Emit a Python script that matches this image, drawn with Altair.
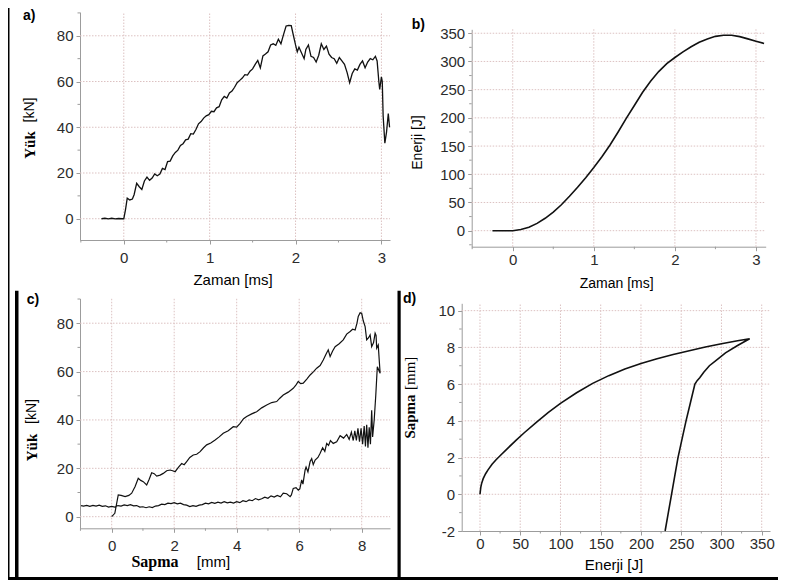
import altair as alt
import pandas as pd

W, H = 770, 572

# ---------------- data ----------------
# a) Load vs time
a_time = [-0.26, -0.22, -0.18, -0.14, -0.10, -0.06, -0.02, 0.0, 0.02, 0.04, 0.07, 0.10, 0.12, 0.15, 0.18,
          0.21, 0.24, 0.27, 0.30, 0.33, 0.36, 0.39, 0.42, 0.45, 0.48, 0.51, 0.54, 0.57, 0.60, 0.63,
          0.66, 0.69, 0.72, 0.75, 0.78, 0.81, 0.84, 0.87, 0.90, 0.93, 0.96, 0.99, 1.02, 1.05, 1.08,
          1.11, 1.14, 1.17, 1.20, 1.23, 1.26, 1.29, 1.32, 1.35, 1.38, 1.41, 1.44, 1.47, 1.50, 1.53,
          1.56, 1.59, 1.62, 1.65, 1.68, 1.71, 1.74, 1.77, 1.80, 1.83, 1.86, 1.89, 1.92, 1.95, 1.97,
          2.00, 2.02, 2.04, 2.07, 2.10, 2.12, 2.15, 2.18, 2.21, 2.24, 2.27, 2.30, 2.33, 2.36, 2.39,
          2.42, 2.45, 2.48, 2.51, 2.54, 2.57, 2.60, 2.63, 2.66, 2.69, 2.72, 2.75, 2.78, 2.81, 2.84,
          2.87, 2.90, 2.93, 2.95, 2.97, 2.98, 3.00, 3.01, 3.02, 3.04, 3.06, 3.08, 3.095]
a_load = [0, 0.2, -0.1, 0.2, -0.1, 0.1, 0, 0, 4, 9, 8.2, 8.6, 10.5, 15.5, 14,
          12.8, 16.5, 18.2, 16.8, 17.8, 19.6, 18.8, 19.5, 22, 21.5, 25, 25.2, 27.5, 29, 30,
          32, 32.8, 34.5, 34.8, 37.2, 37, 39, 41.5, 42.5, 44, 45, 45.5, 47, 46.8, 48.5,
          49, 52, 53.5, 52.8, 55, 55.8, 57.5, 59.5, 60.5, 61.5, 63, 62.8, 64.5, 65.5, 67.5,
          69.2, 66, 71.2, 72, 73, 76, 76.5, 75.8, 78.5, 76.5, 80.5, 84.3, 84.5, 84.4, 81,
          76, 73, 75, 72.5, 70, 74, 76, 71, 70.5, 68.5, 71.5, 76.5, 74, 75.5, 72,
          70.5, 70, 68, 70.5, 69, 67.5, 64, 59.5, 63.5, 65.5, 65, 67.5, 69, 66, 68.5,
          70, 69.5, 71, 69, 60, 56.5, 62, 60, 45, 33, 38, 46, 40]

# b) Energy vs time
b_time = [-0.25, 0, 0.1, 0.2, 0.3, 0.4, 0.5, 0.6, 0.7, 0.8, 0.9, 1.0, 1.1, 1.2, 1.3, 1.4, 1.5,
          1.6, 1.7, 1.8, 1.9, 2.0, 2.1, 2.2, 2.3, 2.4, 2.5, 2.6, 2.7, 2.8, 2.9, 3.0, 3.1]
b_energy = [0, 0, 2, 6, 13, 22, 33, 46, 61, 77, 94, 112, 131, 152, 175, 199, 222,
            245, 265, 282, 296, 307, 317, 326, 334, 340, 344.5, 346.5, 346.5, 344, 340, 336, 332]

# c) Load vs deflection: loading branch, then the return branch
c_up_defl = [0, 0.1, 0.21, 0.3, 0.43, 0.55, 0.64, 0.75, 0.85, 0.93, 1.01, 1.12, 1.2, 1.28, 1.36,
             1.44, 1.55, 1.65, 1.76, 1.87, 1.95, 2.03, 2.14, 2.24, 2.32, 2.4, 2.5, 2.61, 2.72, 2.83,
             2.94, 3.04, 3.17, 3.31, 3.44, 3.57, 3.73, 3.89, 4.0, 4.11, 4.22, 4.32, 4.48, 4.64, 4.8,
             4.96, 5.12, 5.28, 5.38, 5.49, 5.65, 5.81, 5.9, 5.97, 6.05, 6.13, 6.25, 6.35, 6.46, 6.56,
             6.67, 6.77, 6.85, 6.93, 6.99, 7.07, 7.15, 7.28, 7.41, 7.52, 7.63, 7.71, 7.79, 7.85, 7.89,
             7.95, 8.0, 8.05, 8.11, 8.16, 8.22, 8.27, 8.32, 8.38, 8.43, 8.46, 8.48, 8.53, 8.56, 8.59]
c_up_load = [0, 1.4, 9, 8.8, 8.3, 8.8, 9.7, 12.5, 15.9, 15, 14.5, 13.1, 15.5, 18.2, 17.8,
             16.8, 17.2, 17.9, 19, 19.3, 19, 18.6, 20.5, 22, 21.5, 22.8, 24.5, 25.5, 25.8, 26.9,
             28.5, 29.7, 30.5, 31.7, 33, 34.5, 35.5, 37.2, 37, 38.6, 40.5, 41.4, 42.5, 43.4, 45,
             46.2, 47.2, 47.6, 49, 50.3, 51.5, 53.1, 54.5, 55.9, 55, 55.2, 57, 58.6, 60, 61.4,
             62.5, 64.8, 67, 69, 66.2, 68.5, 70.3, 71.5, 73.1, 75.5, 76.6, 77.5, 77.2, 80, 82.8,
             84.3, 84.1, 81, 78.6, 73.1, 74, 75.2, 70.3, 72, 75.9, 75, 69.7, 71, 65, 59.3]
c_dn_defl = [8.5, 8.45, 8.4, 8.35, 8.32, 8.28, 8.24, 8.2, 8.16, 8.12, 8.08, 8.03, 7.98, 7.93, 7.88,
             7.83, 7.78, 7.73, 7.67, 7.6, 7.52, 7.42, 7.31, 7.2, 7.09, 7.0, 6.94, 6.88, 6.82, 6.75,
             6.67, 6.6, 6.51, 6.45, 6.4, 6.35, 6.28, 6.22, 6.19, 6.12, 6.08, 6.02, 5.97, 5.9, 5.81,
             5.75, 5.71, 5.6, 5.49, 5.4, 5.3, 5.2, 5.1, 5.0, 4.9, 4.8, 4.7, 4.6, 4.5,
             4.4, 4.3, 4.2, 4.1, 4.0, 3.9, 3.8, 3.7, 3.6, 3.5, 3.4, 3.3, 3.2, 3.1, 3.0,
             2.9, 2.8, 2.7, 2.6, 2.5, 2.4, 2.3, 2.2, 2.1, 2.0, 1.9, 1.8, 1.7, 1.6, 1.5,
             1.4, 1.3, 1.2, 1.1, 1.0, 0.9, 0.8, 0.7, 0.6, 0.5, 0.4, 0.3, 0.2, 0.1, 0.0,
             -0.1, -0.2, -0.3, -0.4, -0.5, -0.6, -0.7, -0.8, -0.9, -0.98]
c_dn_load = [62, 50, 40, 33, 44, 30, 37, 28.5, 38, 29, 37.5, 30, 36.5, 31, 36.5,
             31.5, 35.5, 31.5, 35, 32, 34, 32.5, 33.5, 31, 30.3, 31.5, 29.5, 30.3, 27, 28.5,
             26.2, 24.5, 23.4, 21.5, 24, 22.8, 18.5, 20.5, 19.3, 13.5, 15.2, 11.5, 11, 12, 11.7,
             9, 8.3, 9.5, 9.7, 8.2, 8.8, 8.1, 8.6, 7.6, 8.1, 7.4, 7.0, 7.5, 6.6,
             6.9, 6.2, 6.6, 5.8, 6.2, 5.6, 6.0, 5.7, 6.2, 5.6, 6.0, 5.5, 5.9, 5.3, 5.6,
             5.0, 4.8, 4.3, 4.6, 4.2, 4.8, 5.0, 5.6, 5.3, 5.8, 5.4, 5.6, 5.0, 5.2, 4.6,
             4.4, 3.8, 4.1, 3.7, 4.1, 4.0, 4.6, 4.5, 5.0, 4.6, 4.9, 4.4, 4.6, 4.0, 4.3,
             4.0, 4.5, 4.3, 4.8, 4.4, 4.7, 4.3, 4.7, 4.4, 4.6]

# d) Deflection vs energy: loading branch, then the return branch
d_up_energy = [0, 1, 2, 4, 7, 10, 15, 20, 25, 35, 45, 55, 70, 85, 100, 120, 140, 160, 180, 200,
               220, 240, 260, 280, 300, 320, 335]
d_up_defl = [0, 0.38, 0.58, 0.85, 1.12, 1.33, 1.63, 1.88, 2.1, 2.53, 2.95, 3.35, 3.92, 4.46, 4.95,
             5.53, 6.04, 6.46, 6.82, 7.12, 7.38, 7.61, 7.82, 8.02, 8.2, 8.36, 8.47]
d_dn_energy = [320, 305, 295, 285, 278, 273, 270, 267, 261.5, 256, 251, 246, 242, 238, 234, 230]
d_dn_defl = [8.1, 7.7, 7.35, 7.0, 6.65, 6.35, 6.2, 6.0, 5.0, 4.0, 3.0, 2.0, 1.0, 0.0, -1.0, -2.0]

# tick values
a_xticks = [0, 1, 2, 3]
a_yticks = [0, 20, 40, 60, 80]
a_xminor = [-0.5, 0.5, 1.5, 2.5]
a_yminor = [10, 30, 50, 70, 90]
b_xticks = [0, 1, 2, 3]
b_yticks = [0, 50, 100, 150, 200, 250, 300, 350]
b_xminor = [-0.5, 0.5, 1.5, 2.5]
b_yminor = [-25, 25, 75, 125, 175, 225, 275, 325]
c_xticks = [0, 2, 4, 6, 8]
c_yticks = [0, 20, 40, 60, 80]
c_xminor = [-1, 1, 3, 5, 7]
c_yminor = [10, 30, 50, 70, 90]
d_xticks = [0, 50, 100, 150, 200, 250, 300, 350]
d_yticks = [-2, 0, 2, 4, 6, 8, 10]
d_xminor = [25, 75, 125, 175, 225, 275, 325]
d_yminor = [-1, 1, 3, 5, 7, 9]

# ---------------- styling ----------------
FONT = "Liberation Sans"
SERIF = "Liberation Serif"
GRID = "#dcc2c2"
AXC = "#9c9c9c"
LAB = "#2b2b2b"


def panel(xs, ys, xdom, ydom, xr, yr, xt, yt, xm, ym, xpad, ypad, sw):
    xscale = alt.Scale(domain=xdom, range=xr, nice=False, zero=False)
    yscale = alt.Scale(domain=ydom, range=yr, nice=False, zero=False)
    common = dict(grid=False, title=None, domainColor=AXC, tickColor=AXC, tickSize=4,
                  domainWidth=1, tickWidth=1, labelFont=FONT, labelFontSize=15,
                  labelColor=LAB, labelExpr="'' + datum.value", labelFlush=False,
                  labelOverlap=False)
    xaxis = alt.Axis(orient="bottom", offset=yr[0] - H, values=xt, labelPadding=xpad, **common)
    yaxis = alt.Axis(orient="left", offset=-xr[0], values=yt, labelPadding=ypad, **common)
    X = alt.X("x:Q", scale=xscale, axis=xaxis)
    Y = alt.Y("y:Q", scale=yscale, axis=yaxis)
    df = pd.DataFrame({"x": xs, "y": ys, "i": list(range(len(xs)))})
    line = alt.Chart(df).mark_line(color="#111111", strokeWidth=sw).encode(
        x=X, y=Y, order=alt.Order("i:Q"))
    gx = [v for v in xt if xdom[0] < v < xdom[1]]
    gy = [v for v in yt if ydom[0] < v < ydom[1]]
    vg = alt.Chart(pd.DataFrame({"x": gx})).mark_rule(
        color=GRID, strokeDash=[1.5, 1.5], strokeWidth=1).encode(
        x=X,
        y=alt.YDatum(ydom[0], type="quantitative", scale=yscale, axis=yaxis),
        y2=alt.Y2Datum(ydom[1]),
    )
    hg = alt.Chart(pd.DataFrame({"y": gy})).mark_rule(
        color=GRID, strokeDash=[1.5, 1.5], strokeWidth=1).encode(
        y=Y,
        x=alt.XDatum(xdom[0], type="quantitative", scale=xscale, axis=xaxis),
        x2=alt.X2Datum(xdom[1]),
    )
    mx = alt.Chart(pd.DataFrame({"x": xm})).mark_rule(color=AXC, strokeWidth=1).encode(
        x=X, y=alt.value(yr[0]), y2=alt.value(yr[0] + 2.5))
    my = alt.Chart(pd.DataFrame({"y": ym})).mark_rule(color=AXC, strokeWidth=1).encode(
        y=Y, x=alt.value(xr[0] - 2.5), x2=alt.value(xr[0]))
    return alt.layer(vg, hg, mx, my, line)


def txt(s, x, y, size=14, font=FONT, weight="normal", angle=0, align="center", baseline="middle"):
    return alt.Chart(alt.Data(values=[{}])).mark_text(
        text=s, font=font, fontSize=size, fontWeight=weight, angle=angle,
        align=align, baseline=baseline, color="black").encode(
        x=alt.value(x), y=alt.value(y))


def vrule(x, y0, y1, w):
    return alt.Chart(alt.Data(values=[{}])).mark_rule(color="black", strokeWidth=w).encode(
        x=alt.value(x), y=alt.value(y0), y2=alt.value(y1))


def hrule(y, x0, x1, w):
    return alt.Chart(alt.Data(values=[{}])).mark_rule(color="black", strokeWidth=w).encode(
        y=alt.value(y), x=alt.value(x0), x2=alt.value(x1))


pa = panel(a_time, a_load, [-0.51, 3.1], [-9.3, 90.4], [72, 382], [232, 4],
           a_xticks, a_yticks, a_xminor, a_yminor, 6, 3, 1.3)
pb = panel(b_time, b_energy, [-0.506, 3.12], [-28.4, 357], [463.7, 757.7], [238.7, 21.3],
           b_xticks, b_yticks, b_xminor, b_yminor, 1.5, 3, 1.6)
pc = panel(c_up_defl + c_dn_defl, c_up_load + c_dn_load, [-1.014, 8.906], [-4.8, 90.3],
           [72, 382], [520.3, 290.3], c_xticks, c_yticks, c_xminor, c_yminor, 6, 3, 1.2)
pd_ = panel(d_up_energy + d_dn_energy, d_up_defl + d_dn_defl, [-22.7, 360.3], [-2, 10.4],
            [453.7, 762], [523, 295.3], d_xticks, d_yticks, d_xminor, d_yminor, 1.5, 3, 1.6)

decor = [
    # frame lines
    vrule(0.75, 0, 572, 1.5),
    vrule(8.75, 282.7, 572, 3.5),
    vrule(391.1, 282.7, 572, 3.2),
    hrule(570.5, 0, 770, 3),
    # panel letters
    txt("a)", 15, 12, 14, weight="bold", align="left", baseline="alphabetic"),
    txt("b)", 403.7, 21, 14, weight="bold", align="left", baseline="alphabetic"),
    txt("c)", 18.7, 296, 14, weight="bold", align="left", baseline="alphabetic"),
    txt("d)", 395, 295, 14, weight="bold", align="left", baseline="alphabetic"),
    # a titles
    txt("Zaman [ms]", 225, 272, 15),
    txt("Yük", 22, 137, 15, font=SERIF, weight="bold", angle=270),
    txt("[kN]", 22, 102, 14, angle=270),
    # b titles
    txt("Zaman [ms]", 608.7, 275.5, 14),
    txt("Enerji [J]", 409.5, 134.5, 14, angle=270),
    # c titles
    txt("Sapma", 147, 554, 16, font=SERIF, weight="bold"),
    txt("[mm]", 205.5, 554, 15),
    txt("Yük", 24, 439.5, 15, font=SERIF, weight="bold", angle=270),
    txt("[kN]", 24, 403.5, 14, angle=270),
    # d titles
    txt("Enerji [J]", 606, 557, 15),
    txt("Sapma", 402, 408.5, 15, font=SERIF, weight="bold", angle=270),
    txt("[mm]", 402, 365.3, 15, font=SERIF, angle=270),
]

chart = alt.layer(pa, pb, pc, pd_, *decor).resolve_scale(
    x="independent", y="independent"
).properties(
    width=W, height=H, padding=0, autosize=alt.AutoSizeParams(type="none")
).configure_view(stroke=None)

chart.save("out.html", embed_options={"renderer": "svg", "actions": False})
